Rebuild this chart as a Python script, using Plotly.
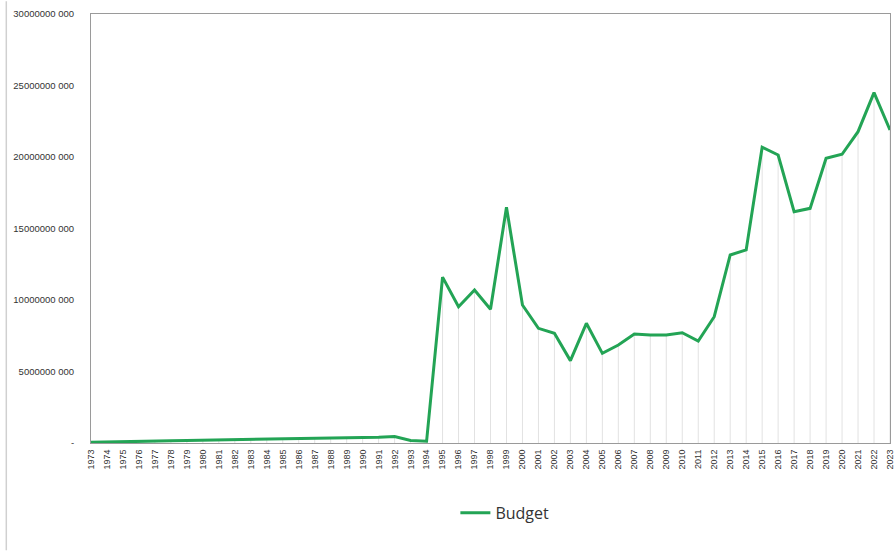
import plotly.graph_objects as go

years = list(range(1973, 2024))
budget_millions = [
    0.05, 0.06, 0.08, 0.12, 0.13, 0.15, 0.18, 0.20, 0.22, 0.23,
    0.25, 0.27, 0.28, 0.28, 0.30, 0.32, 0.33, 0.38, 0.40, 0.45,
    0.18, 0.12, 11.6, 9.53, 10.7, 9.35, 16.48, 9.65, 8.02, 7.67,
    5.76, 8.37, 6.27, 6.85, 7.62, 7.55, 7.55, 7.71, 7.13, 8.83,
    13.15, 13.5, 20.68, 20.14, 16.18, 16.41, 19.91, 20.19, 21.77, 24.5,
    21.89,
]
budget = [v * 1_000_000 for v in budget_millions]

y_tickvals = [0, 5_000_000, 10_000_000, 15_000_000, 20_000_000, 25_000_000, 30_000_000]
y_ticktext = ["-", "5000000 000", "10000000 000", "15000000 000",
              "20000000 000", "25000000 000", "30000000 000"]

fig = go.Figure()

# drop lines from each point to the axis
fig.add_trace(go.Scatter(
    x=years, y=budget, mode="markers",
    marker=dict(size=0.1, color="rgba(0,0,0,0)"),
    error_y=dict(type="data", symmetric=False, array=[0] * len(budget),
                 arrayminus=budget, width=0, color="#e2e2e2", thickness=1),
    showlegend=False, hoverinfo="skip",
))

fig.add_trace(go.Scatter(
    x=years, y=budget, mode="lines", name="Budget",
    line=dict(color="#23a455", width=3),
))

fig.update_layout(
    width=895, height=553,
    margin=dict(l=91, r=5, t=14, b=110, autoexpand=False),
    paper_bgcolor="white", plot_bgcolor="white",
    font=dict(family="Liberation Sans, Arial, sans-serif", color="#333"),
    showlegend=True,
    legend=dict(orientation="h", x=0.518, xanchor="center", y=-0.163, yanchor="middle",
                font=dict(size=16, family="Open Sans, sans-serif", color="#333"),
                bgcolor="rgba(0,0,0,0)"),
    shapes=[dict(type="line", xref="paper", yref="paper",
                 x0=-0.106, x1=-0.106, y0=-0.25, y1=1.03,
                 line=dict(color="#d0d0d0", width=1.5))],
)

fig.update_xaxes(
    range=[1973, 2023], tickmode="array", tickvals=years,
    ticktext=[str(y) for y in years], tickangle=-90,
    tickfont=dict(size=9, color="#333"),
    showgrid=False, zeroline=False, automargin=False,
    showline=True, linecolor="#9a9a9a", linewidth=1, mirror=True,
    ticks="", ticklabelstandoff=2, ticklabeloverflow="allow",
)
fig.update_yaxes(
    range=[0, 30_000_000], tickmode="array", tickvals=y_tickvals, ticktext=y_ticktext,
    tickfont=dict(size=9.5, color="#333"),
    showgrid=False, zeroline=False, automargin=False,
    showline=True, linecolor="#9a9a9a", linewidth=1, mirror=True,
    ticks="", ticklabelstandoff=14,
)

fig.write_html("out.html", config={"displayModeBar": False},
               post_script="document.body.style.margin='0';")
